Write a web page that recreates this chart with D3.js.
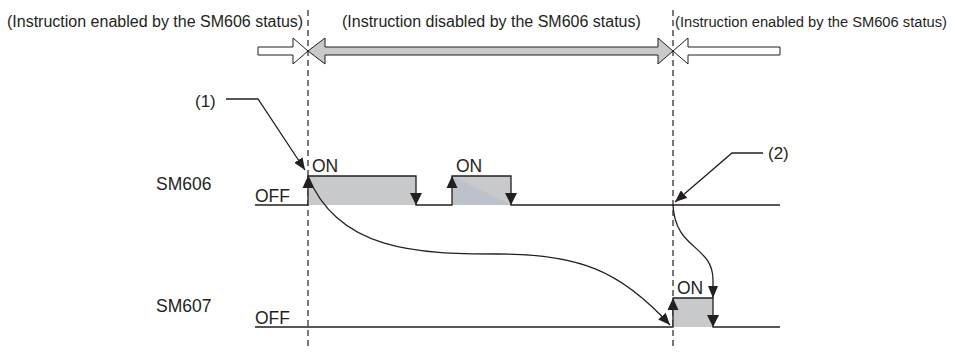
<!DOCTYPE html>
<html>
<head>
<meta charset="utf-8">
<script src="https://cdn.jsdelivr.net/npm/d3@7"></script>
<style>
  body { margin: 0; background: #fff; }
  svg { display: block; }
  text { font-family: "Liberation Sans", Arial, sans-serif; fill: #231f20; }
</style>
</head>
<body>
<svg width="955" height="353"></svg>
<script>
// Timing chart: SM606 / SM607

const svg = d3.select('svg');
const ink = '#231f20';
const pulseFill = '#c8c9ca';

// data
const signals = ['SM606', 'SM607'];
const sm606Pulses = [[10.6, 32.2], [39.4, 51.2]];
const sm607Pulses = [[83.6, 91.6]];
const boundaries = [10.6, 83.6];
const zoneLabels = [
    '(Instruction enabled by the SM606 status)',
    '(Instruction disabled by the SM606 status)',
    '(Instruction enabled by the SM606 status)'
];
const levelLabels = ['OFF', 'ON'];
const callouts = ['(1)', '(2)'];

// scales
const x = d3.scaleLinear().domain([0, 105]).range([255, 780]);
const row = d3.scalePoint().domain(signals).range([205, 327]);
const level = d3.scaleOrdinal().domain(levelLabels).range([0, -29]);
const yOf = (sig, lv) => row(sig) + level(lv);

// arrow marker
const defs = svg.append('defs');
defs.append('marker')
    .attr('id', 'head')
    .attr('viewBox', '0 0 12 10')
    .attr('refX', 12).attr('refY', 5)
    .attr('markerWidth', 12).attr('markerHeight', 10)
    .attr('markerUnits', 'userSpaceOnUse')
    .attr('orient', 'auto')
    .append('path')
    .attr('d', 'M0,0 L12,5 L0,10 Z')
    .attr('fill', ink);

defs.append('linearGradient')
    .attr('id', 'diag')
    .attr('x1', 0).attr('y1', 1).attr('x2', 1).attr('y2', 0)
    .selectAll('stop')
    .data([[0, '#bcc2ca'], [0.5, '#bcc2ca'], [0.5, pulseFill], [1, pulseFill]])
    .join('stop')
    .attr('offset', d => d[0])
    .attr('stop-color', d => d[1]);

// zone labels on top
const bx0 = x(boundaries[0]), bx1 = x(boundaries[1]);
const zoneX = [7, bx0 + 34, bx1 + 2];
const zoneSize = [16, 16, 14.7];
svg.selectAll('.zone')
    .data(zoneLabels)
    .join('text')
    .attr('class', 'zone')
    .attr('x', (d, i) => zoneX[i])
    .attr('y', 27)
    .attr('font-size', (d, i) => zoneSize[i])
    .text(d => d);

// zone arrows
const cy = 51, sh = 4, hh = 13, hl = 15;
function arrow(x0, x1, dir) {
    const s = dir;
    return `M${x0},${cy - sh} L${x1 - s * hl},${cy - sh} L${x1 - s * hl},${cy - hh} L${x1},${cy} ` +
        `L${x1 - s * hl},${cy + hh} L${x1 - s * hl},${cy + sh} L${x0},${cy + sh} Z`;
}
svg.append('path').attr('d', arrow(258, bx0, 1))
    .attr('fill', '#fff').attr('stroke', ink).attr('stroke-width', 1);
svg.append('path').attr('d', arrow(780, bx1, -1))
    .attr('fill', '#fff').attr('stroke', ink).attr('stroke-width', 1);
svg.append('path')
    .attr('d', `M${bx0},${cy} L${bx0 + 17},${cy - hh} L${bx0 + 17},${cy - sh} L${bx1 - 15},${cy - sh} ` +
        `L${bx1 - 15},${cy - hh} L${bx1},${cy} L${bx1 - 15},${cy + hh} L${bx1 - 15},${cy + sh} ` +
        `L${bx0 + 17},${cy + sh} L${bx0 + 17},${cy + hh} Z`)
    .attr('fill', pulseFill).attr('stroke', ink).attr('stroke-width', 1);

// dashed boundaries
svg.selectAll('.bound')
    .data(boundaries)
    .join('line')
    .attr('class', 'bound')
    .attr('x1', d => x(d)).attr('x2', d => x(d))
    .attr('y1', 10).attr('y2', 350)
    .attr('stroke', ink).attr('stroke-width', 1.2)
    .attr('stroke-dasharray', '6,4');

// signal rows
function drawSignal(sig, pulses, pulseStyles) {
    const g = svg.append('g');
    const lo = yOf(sig, 'OFF'), hi = yOf(sig, 'ON');

    g.append('text').attr('x', 156).attr('y', lo - 15).attr('font-size', 17.5).text(sig);
    g.append('text').attr('x', 255).attr('y', lo - 3).attr('font-size', 17.5).text(levelLabels[0]);

    g.selectAll('rect')
        .data(pulses)
        .join('rect')
        .attr('x', d => x(d[0])).attr('y', hi)
        .attr('width', d => x(d[1]) - x(d[0])).attr('height', lo - hi)
        .attr('fill', (d, i) => pulseStyles[i]);

    // waveform
    const pts = [[x.domain()[0], lo]];
    pulses.forEach(p => {
        pts.push([p[0], lo], [p[0], hi], [p[1], hi], [p[1], lo]);
    });
    pts.push([x.domain()[1], lo]);
    g.append('path')
        .attr('d', d3.line().x(d => x(d[0])).y(d => d[1])(pts))
        .attr('fill', 'none').attr('stroke', ink).attr('stroke-width', 1.3);

    // edge arrows
    g.selectAll('.up')
        .data(pulses)
        .join('path')
        .attr('d', d => `M${x(d[0])},${hi} l-5.5,12 l11,0 Z`)
        .attr('fill', ink);
    g.selectAll('.down')
        .data(pulses)
        .join('path')
        .attr('d', d => `M${x(d[1])},${lo} l-6,-12 l12,0 Z`)
        .attr('fill', ink);

    g.selectAll('.on')
        .data(pulses)
        .join('text')
        .attr('x', d => x(d[0]) + 4).attr('y', hi - 4)
        .attr('font-size', 17.5)
        .text(levelLabels[1]);
}
drawSignal('SM606', sm606Pulses, [pulseFill, 'url(#diag)']);
drawSignal('SM607', sm607Pulses, [pulseFill]);

// callouts
const a1 = [x(boundaries[0]) - 3, yOf('SM606', 'ON') - 6];
svg.append('text').attr('x', 195).attr('y', 107).attr('font-size', 17).text(callouts[0]);
svg.append('path')
    .attr('d', `M226,99 L258,99 L${a1[0]},${a1[1]}`)
    .attr('fill', 'none').attr('stroke', ink).attr('stroke-width', 1.3)
    .attr('marker-end', 'url(#head)');

const a2 = [x(boundaries[1]) + 2, yOf('SM606', 'OFF') - 3];
svg.append('text').attr('x', 768).attr('y', 159).attr('font-size', 17).text(callouts[1]);
svg.append('path')
    .attr('d', `M763,153 L732,153 L${a2[0]},${a2[1]}`)
    .attr('fill', 'none').attr('stroke', ink).attr('stroke-width', 1.3)
    .attr('marker-end', 'url(#head)');

// cause -> effect curves
const s0 = [x(sm606Pulses[0][0]), yOf('SM606', 'ON')];
const e0 = [x(sm607Pulses[0][0]) - 3, yOf('SM607', 'OFF') - 2];
svg.append('path')
    .attr('d', `M${s0[0]},${s0[1]} C${s0[0] + 30},${s0[1] + 75} ${s0[0] + 110},${s0[1] + 78} ${s0[0] + 190},${s0[1] + 78} ` +
        `S${e0[0] - 50},${e0[1] - 55} ${e0[0]},${e0[1]}`)
    .attr('fill', 'none').attr('stroke', ink).attr('stroke-width', 1.3)
    .attr('marker-end', 'url(#head)');

const s1 = [x(boundaries[1]), yOf('SM606', 'OFF')];
const e1 = [x(sm607Pulses[0][1]), yOf('SM607', 'ON')];
svg.append('path')
    .attr('d', `M${s1[0]},${s1[1]} C${s1[0] + 2},${s1[1] + 45} ${e1[0]},${s1[1] + 40} ${e1[0]},${s1[1] + 75} L${e1[0]},${e1[1]}`)
    .attr('fill', 'none').attr('stroke', ink).attr('stroke-width', 1.3)
    .attr('marker-end', 'url(#head)');
</script>
</body>
</html>
